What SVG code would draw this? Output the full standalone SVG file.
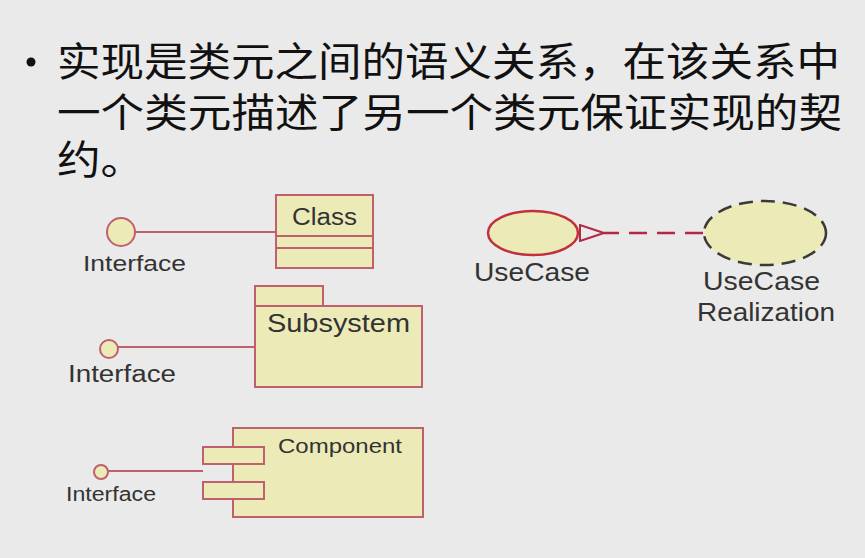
<svg xmlns="http://www.w3.org/2000/svg" width="865" height="558" viewBox="0 0 865 558">
<defs>
<style>
.bg{fill:#eaeaea}
.cn{font-family:"Noto Sans CJK SC","Noto Sans CJK JP",sans-serif;font-size:40px;fill:#111}
.lbl{font-family:"Liberation Sans",Arial,sans-serif;fill:#333}
.box{fill:#ecebb8;stroke:#c0606e;stroke-width:2}
.ln{stroke:#c0606e;stroke-width:2;fill:none}
</style>
<marker id="tri" viewBox="0 0 26 18" refX="1" refY="9" markerWidth="26" markerHeight="18" markerUnits="userSpaceOnUse" orient="auto">
<path d="M1,9 L25,1 L25,17 Z" fill="#eaeaea" stroke="#b02a44" stroke-width="2"/>
</marker>
</defs>
<rect class="bg" x="0" y="0" width="865" height="558"/>

<g id="title">
<circle cx="31" cy="62" r="4.5" fill="#111"/>
<text class="cn" x="57" y="76" textLength="783" lengthAdjust="spacingAndGlyphs">实现是类元之间的语义关系，在该关系中</text>
<text class="cn" x="57" y="127" textLength="785" lengthAdjust="spacingAndGlyphs">一个类元描述了另一个类元保证实现的契</text>
<text class="cn" x="57" y="174" textLength="87" lengthAdjust="spacingAndGlyphs">约。</text>
</g>

<g id="connectors">
<line class="ln" x1="135" y1="232" x2="276" y2="232"/>
<line class="ln" x1="118" y1="347" x2="255" y2="347"/>
<line class="ln" x1="108" y1="471" x2="203" y2="471"/>
<line x1="703" y1="233" x2="604" y2="233" stroke="#b02a44" stroke-width="2.5" stroke-dasharray="18,10" marker-end="url(#tri)"/>
</g>

<g id="interface1">
<circle class="box" cx="121" cy="232" r="14"/>
<text class="lbl" x="83" y="271" font-size="22" textLength="103" lengthAdjust="spacingAndGlyphs">Interface</text>
</g>
<g id="class">
<rect class="box" x="276" y="195" width="97" height="73"/>
<line class="ln" x1="276" y1="236" x2="373" y2="236"/>
<line class="ln" x1="276" y1="248" x2="373" y2="248"/>
<text class="lbl" x="292" y="225" font-size="23" textLength="65" lengthAdjust="spacingAndGlyphs" fill="#3c463c">Class</text>
</g>

<g id="interface2">
<circle class="box" cx="109" cy="349" r="9"/>
<text class="lbl" x="68" y="382" font-size="23" textLength="108" lengthAdjust="spacingAndGlyphs">Interface</text>
</g>
<g id="subsystem">
<rect class="box" x="255" y="286" width="68" height="20"/>
<rect class="box" x="255" y="306" width="167" height="81"/>
<text class="lbl" x="267" y="332" font-size="25" textLength="143" lengthAdjust="spacingAndGlyphs" fill="#2a2a2a">Subsystem</text>
</g>

<g id="interface3">
<circle class="box" cx="101" cy="472" r="7"/>
<text class="lbl" x="66" y="501" font-size="20" textLength="90" lengthAdjust="spacingAndGlyphs">Interface</text>
</g>
<g id="component">
<rect class="box" x="233" y="428" width="190" height="89"/>
<rect class="box" x="203" y="447" width="61" height="17"/>
<rect class="box" x="203" y="482" width="61" height="17"/>
<text class="lbl" x="278" y="453" font-size="21" textLength="124" lengthAdjust="spacingAndGlyphs" fill="#3a4a3a">Component</text>
</g>

<g id="usecase">
<ellipse cx="533" cy="233" rx="45" ry="22" fill="#ecebb8" stroke="#c0303e" stroke-width="2.5"/>
<text class="lbl" x="474" y="281" font-size="25" textLength="116" lengthAdjust="spacingAndGlyphs">UseCase</text>
</g>
<g id="realization">
<ellipse cx="765" cy="233" rx="61" ry="32" fill="#ecebb8" stroke="#3a3a3a" stroke-width="2.5" stroke-dasharray="14,8"/>
<text class="lbl" x="703" y="290" font-size="25" textLength="117" lengthAdjust="spacingAndGlyphs">UseCase</text>
<text class="lbl" x="697" y="321" font-size="25" textLength="138" lengthAdjust="spacingAndGlyphs">Realization</text>
</g>
</svg>
